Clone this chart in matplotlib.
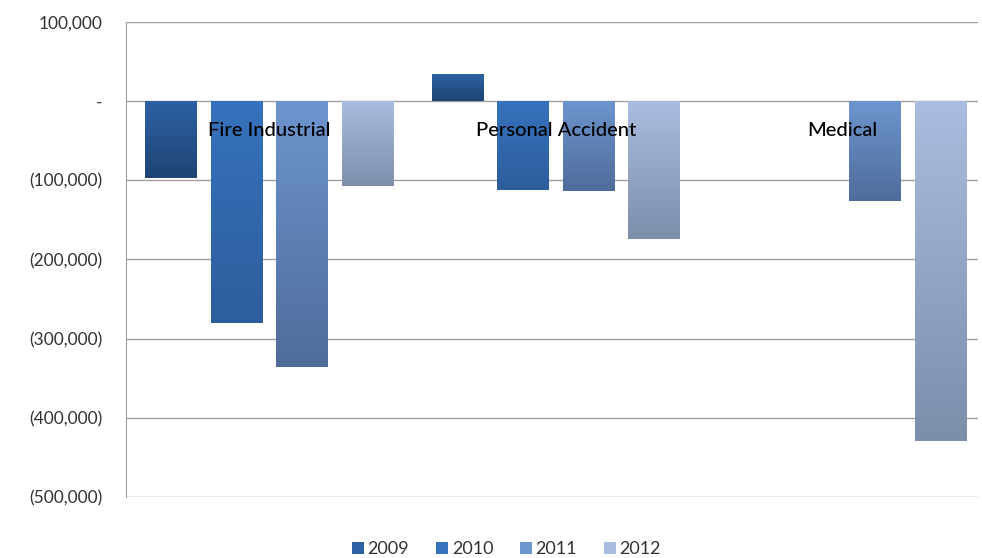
import numpy as np
import matplotlib
matplotlib.use("Agg")
import matplotlib.pyplot as plt
from matplotlib.colors import LinearSegmentedColormap
from matplotlib.patches import Patch

categories = ["Fire Industrial", "Personal Accident", "Medical"]
years = ["2009", "2010", "2011", "2012"]
values = {
    "2009": [-97000, 34000, 0],
    "2010": [-280000, -112000, 0],
    "2011": [-336000, -114000, -126000],
    "2012": [-107000, -174000, -429000],
}
yticks = [100000, 0, -100000, -200000, -300000, -400000, -500000]
ytick_labels = ["100,000", "-", "(100,000)", "(200,000)", "(300,000)", "(400,000)", "(500,000)"]

# top / bottom colours of each gradient
grad = {
    "2009": ("#2d61a3", "#1f4474"),
    "2010": ("#3672bd", "#2d5e9c"),
    "2011": ("#6d95ce", "#4f6c9b"),
    "2012": ("#aabde0", "#7d8eab"),
}

plt.rcParams['font.family'] = ['Lato', 'DejaVu Sans']

fig = plt.figure(figsize=(9.82, 5.58), dpi=100)
ax = fig.add_axes([0.1283, 0.1093, 0.8677, 0.8513])

x = np.arange(len(categories))
width = 0.18
offsets = [-0.342, -0.114, 0.114, 0.342]

grad_img = np.linspace(0, 1, 256).reshape(-1, 1)
for yr, off in zip(years, offsets):
    top, bot = grad[yr]
    cmap = LinearSegmentedColormap.from_list(yr, [bot, top])
    bars = ax.bar(x + off, values[yr], width, color=bot, zorder=2)
    for b, v in zip(bars, values[yr]):
        if v == 0:
            continue
        x0 = b.get_x()
        lo, hi = min(0, v), max(0, v)
        im = ax.imshow(grad_img, cmap=cmap, aspect="auto", origin="lower",
                       extent=[x0, x0 + width, lo, hi], zorder=2.1)
        im.set_clip_path(b)

for i, c in enumerate(categories):
    ax.text(x[i], -37000, c, ha="center", va="center", fontsize=14.5,
            fontweight="medium", color="black", zorder=5)

ax.set_xlim(-0.5, 2.473)
ax.set_ylim(-500000, 100000)
ax.set_yticks(yticks)
ax.set_yticklabels(ytick_labels, fontsize=12.5, color="#333333")
ax.set_xticks([])
ax.grid(axis="y", color="#a0a0a0", linewidth=1, zorder=0)
ax.set_axisbelow(True)
for s in ["top", "right", "bottom"]:
    ax.spines[s].set_visible(False)
ax.spines["left"].set_color("#a0a0a0")
ax.tick_params(axis="y", length=0, pad=17)

handles = [Patch(facecolor=grad[yr][0], edgecolor="none") for yr in years]
fig.legend(handles, years, loc="lower center", ncol=4, frameon=False,
           bbox_to_anchor=(0.516, -0.028), handlelength=0.65,
           handleheight=0.65, handletextpad=0.2, columnspacing=1.5,
           prop={"size": 13}, labelcolor="#333333")

fig.savefig("out.png", dpi=100)
